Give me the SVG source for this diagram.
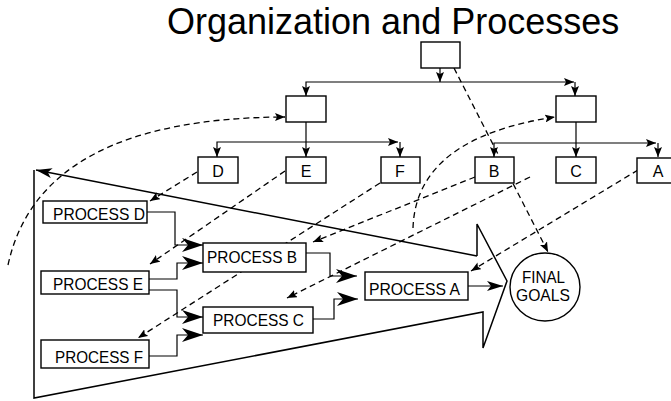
<svg xmlns="http://www.w3.org/2000/svg" width="671" height="401" viewBox="0 0 671 401">
<style>
  text { font-family: "Liberation Sans", Arial, sans-serif; fill: #000; }
  .title { font-size: 36px; }
  .lbl { font-size: 17px; }
  .let { font-size: 16px; text-anchor: middle; }
  .box { fill: #fff; stroke: #000; stroke-width: 1.4; }
  .ln { fill: none; stroke: #000; stroke-width: 1.2; }
  .dash { fill: none; stroke: #000; stroke-width: 1.3; stroke-dasharray: 6 4; }
  .big { fill: none; stroke: #000; stroke-width: 1.5; stroke-linejoin: miter; }
</style>
<defs>
  <marker id="sm" viewBox="0 0 10 8" refX="10" refY="4" markerWidth="10" markerHeight="8" markerUnits="userSpaceOnUse" orient="auto">
    <path d="M0,0 L10,4 L0,8 L2,4 Z" fill="#000"/>
  </marker>
  <marker id="md" viewBox="0 0 16 10" refX="16" refY="5" markerWidth="16" markerHeight="10" markerUnits="userSpaceOnUse" orient="auto">
    <path d="M0,0 L16,5 L0,10 L4,5 Z" fill="#000"/>
  </marker>
  <marker id="bg" viewBox="0 0 21 14" refX="21" refY="7" markerWidth="21" markerHeight="14" markerUnits="userSpaceOnUse" orient="auto">
    <path d="M0,0 L21,7 L0,14 L6,7 Z" fill="#000"/>
  </marker>
</defs>

<text class="title" x="167" y="34">Organization and Processes</text>

<g id="connectors">
  <!-- big arrow outline -->
  <path class="big" d="M34,170 L34,398 L483,312 L483,348 L507,281 L477,224 L477,256"/>
  <path class="big" d="M477,256 L36,170" marker-end="url(#md)"/>

  <!-- tree -->
  <path class="ln" d="M440,68 V82" marker-end="url(#sm)"/>
  <path class="ln" d="M440,82 H306 V96" marker-end="url(#sm)"/>
  <path class="ln" d="M440,82 H574" marker-end="url(#sm)"/>
  <path class="ln" d="M575,82 V96" marker-end="url(#sm)"/>
  <path class="ln" d="M306,122 V157" marker-end="url(#sm)"/>
  <path class="ln" d="M306,142 H217 V157" marker-end="url(#sm)"/>
  <path class="ln" d="M306,142 H398" marker-end="url(#sm)"/>
  <path class="ln" d="M400,142 V157" marker-end="url(#sm)"/>
  <path class="ln" d="M576,122 V157" marker-end="url(#sm)"/>
  <path class="ln" d="M576,143 H494 V157" marker-end="url(#sm)"/>
  <path class="ln" d="M576,143 H656" marker-end="url(#sm)"/>
  <path class="ln" d="M658,143 V157" marker-end="url(#sm)"/>

  <!-- process flow -->
  <path class="ln" d="M147,212 H175 V245 H203" marker-end="url(#bg)"/>
  <path class="ln" d="M149,279 H177 V263 H203" marker-end="url(#bg)"/>
  <path class="ln" d="M149,290 H177 V317 H203" marker-end="url(#bg)"/>
  <path class="ln" d="M149,356 H177 V335 H203" marker-end="url(#bg)"/>
  <path class="ln" d="M306,253 H330 V276 H357" marker-end="url(#bg)"/>
  <path class="ln" d="M313,319 H334 V299 H358" marker-end="url(#bg)"/>
  <path class="ln" d="M468,286 H503" marker-end="url(#md)"/>

  <!-- dashed -->
  <path class="dash" d="M454,68 L548,252" marker-end="url(#sm)"/>
  <path class="dash" d="M8,265 Q40,118 285,117" marker-end="url(#sm)"/>
  <path class="dash" d="M413,228 Q416,138 555,117" marker-end="url(#sm)"/>
  <path class="dash" d="M197,172 L150,201" marker-end="url(#sm)"/>
  <path class="dash" d="M285,171 L150,264" marker-end="url(#sm)"/>
  <path class="dash" d="M380,183 L138,338" marker-end="url(#sm)"/>
  <path class="dash" d="M475,177 L313,242" marker-end="url(#sm)"/>
  <path class="dash" d="M530,177 L287,298" marker-end="url(#sm)"/>
  <path class="dash" d="M638,170 L471,271" marker-end="url(#sm)"/>
</g>

<g id="top"><rect class="box" x="421" y="42" width="39" height="26"/></g>
<g id="mgrL"><rect class="box" x="286" y="96" width="40" height="26"/></g>
<g id="mgrR"><rect class="box" x="556" y="96" width="40" height="26"/></g>

<g id="D"><rect class="box" x="198" y="157" width="40" height="26"/><text class="let" x="218" y="177">D</text></g>
<g id="E"><rect class="box" x="286" y="157" width="40" height="26"/><text class="let" x="306" y="177">E</text></g>
<g id="F"><rect class="box" x="381" y="157" width="39" height="26"/><text class="let" x="400" y="177">F</text></g>
<g id="B"><rect class="box" x="475" y="157" width="39" height="26"/><text class="let" x="494" y="177">B</text></g>
<g id="C"><rect class="box" x="556" y="157" width="40" height="26"/><text class="let" x="576" y="177">C</text></g>
<g id="A"><rect class="box" x="637" y="158" width="41" height="25"/><text class="let" x="658" y="177">A</text></g>

<g id="procD"><rect class="box" x="43" y="201" width="104" height="22"/><text class="lbl" x="53" y="220" textLength="92" lengthAdjust="spacingAndGlyphs">PROCESS D</text></g>
<g id="procE"><rect class="box" x="41" y="271" width="108" height="23"/><text class="lbl" x="53" y="290" textLength="90" lengthAdjust="spacingAndGlyphs">PROCESS E</text></g>
<g id="procF"><rect class="box" x="41" y="340" width="108" height="28"/><text class="lbl" x="55" y="363" textLength="88" lengthAdjust="spacingAndGlyphs">PROCESS F</text></g>
<g id="procB"><rect class="box" x="203" y="243" width="103" height="29"/><text class="lbl" x="207" y="263" textLength="90" lengthAdjust="spacingAndGlyphs">PROCESS B</text></g>
<g id="procC"><rect class="box" x="203" y="307" width="110" height="26"/><text class="lbl" x="213" y="326" textLength="91" lengthAdjust="spacingAndGlyphs">PROCESS C</text></g>
<g id="procA"><rect class="box" x="365" y="272" width="103" height="28"/><text class="lbl" x="369" y="295" textLength="91" lengthAdjust="spacingAndGlyphs">PROCESS A</text></g>

<g id="goals"><ellipse class="box" cx="545" cy="287" rx="35" ry="34"/><text class="lbl" x="522" y="283" textLength="43" lengthAdjust="spacingAndGlyphs">FINAL</text><text class="lbl" x="516" y="301" textLength="54" lengthAdjust="spacingAndGlyphs">GOALS</text></g>
</svg>
